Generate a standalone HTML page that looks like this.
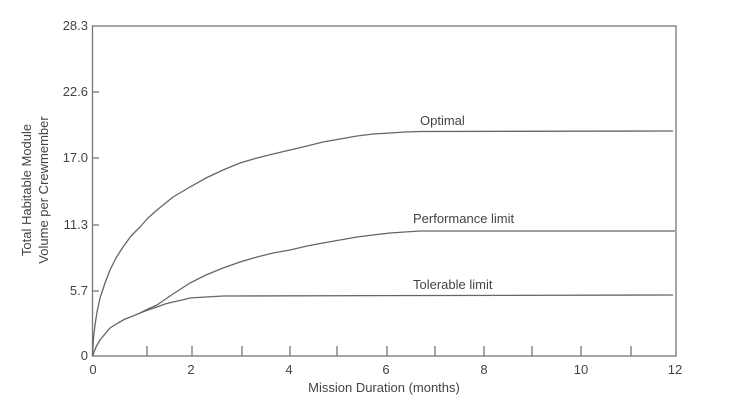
<!DOCTYPE html>
<html><head><style>
body{margin:0;background:#fff;}
svg{display:block;font-family:"Liberation Sans",sans-serif;}
</style></head><body>
<svg width="751" height="411" viewBox="0 0 751 411">
<g stroke="#777" stroke-width="1.3" fill="none">
<rect x="92.5" y="26" width="583.5" height="330"/>
<line x1="92.5" y1="92" x2="99" y2="92"/>
<line x1="92.5" y1="158" x2="99" y2="158"/>
<line x1="92.5" y1="225" x2="99" y2="225"/>
<line x1="92.5" y1="291" x2="99" y2="291"/>
<line x1="147" y1="346" x2="147" y2="356"/>
<line x1="192" y1="346" x2="192" y2="356"/>
<line x1="242" y1="346" x2="242" y2="356"/>
<line x1="290" y1="346" x2="290" y2="356"/>
<line x1="337" y1="346" x2="337" y2="356"/>
<line x1="387" y1="346" x2="387" y2="356"/>
<line x1="435" y1="346" x2="435" y2="356"/>
<line x1="484" y1="346" x2="484" y2="356"/>
<line x1="532" y1="346" x2="532" y2="356"/>
<line x1="581" y1="346" x2="581" y2="356"/>
<line x1="631" y1="346" x2="631" y2="356"/>
</g>
<g stroke="#666" stroke-width="1.3" fill="none" stroke-linejoin="round">
<polyline points="92.5,356 93.5,338 95,325 97,312 100,298 105,283 110,270 116,258 123,247 131,236 140,227 148,218 157,210 173,197 190,187 206,178 223,170 240,163 257,158 273,154 290,150 307,146 323,142 340,139 357,136 373,134 390,133 405,132 420,131.5 673,131"/>
<polyline points="92.5,356 96,347 100,340 105,334 110,328 118,323 125,319 133,316 140,313 148,309 157,305 173,294 190,283 206,275 223,268 240,262 257,257 273,253 290,250 307,246 323,243 340,240 357,237 373,235 390,233 405,232 420,231 675,231"/>
<polyline points="140,313 148,310 157,307 165,304 173,302 182,300 190,298 206,297 223,296 673,295"/>
</g>
<g fill="#444" font-size="13">
<text x="88" y="30" text-anchor="end">28.3</text>
<text x="88" y="96" text-anchor="end">22.6</text>
<text x="88" y="162" text-anchor="end">17.0</text>
<text x="88" y="229" text-anchor="end">11.3</text>
<text x="88" y="295" text-anchor="end">5.7</text>
<text x="88" y="360" text-anchor="end">0</text>
<text x="93" y="374" text-anchor="middle">0</text>
<text x="191" y="374" text-anchor="middle">2</text>
<text x="289" y="374" text-anchor="middle">4</text>
<text x="386" y="374" text-anchor="middle">6</text>
<text x="484" y="374" text-anchor="middle">8</text>
<text x="581" y="374" text-anchor="middle">10</text>
<text x="675" y="374" text-anchor="middle">12</text>
<text x="384" y="392" text-anchor="middle">Mission Duration (months)</text>
<text x="420" y="125">Optimal</text>
<text x="413" y="223">Performance limit</text>
<text x="413" y="289">Tolerable limit</text>
<text transform="translate(31,190) rotate(-90)" text-anchor="middle">Total Habitable Module</text>
<text transform="translate(48,190) rotate(-90)" text-anchor="middle">Volume per Crewmember</text>
</g>
</svg>
</body></html>
